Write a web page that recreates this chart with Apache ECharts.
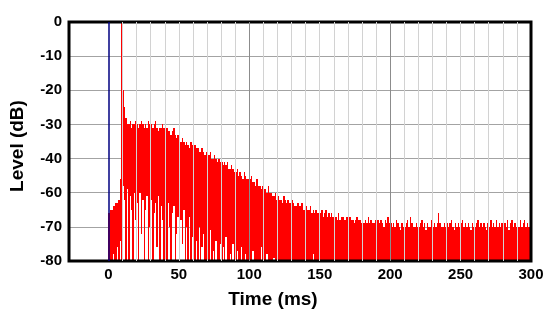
<!DOCTYPE html>
<html>
<head>
    <meta charset="utf-8">
    <title>Impulse response</title>
    <script src="https://cdn.jsdelivr.net/npm/echarts@6/dist/echarts.min.js"></script>
    <style>
        html, body { margin: 0; padding: 0; background: #ffffff; }
        #chart { width: 550px; height: 320px; }
    </style>
</head>
<body>
<div id="chart"></div>
<script>
    // x ticks (ms) and y tick labels as printed on the original (note: it skips -50)
    var xTicks = [0, 50, 100, 150, 200, 250, 300];
    var yTickLabels = ['0', '-10', '-20', '-30', '-40', '-60', '-70', '-80'];

    // time step of the trace, ms
    var step = 1;

    // upper edge of the trace, one value per ms from 0 to 300 (grid units, 0 = top line, -70 = bottom)
    var peakLevel = [
        -56, -55, -55, -54, -54, -53, -53, -52, -46, 0,
        -20, -25, -28, -30, -30, -29, -31, -30, -30, -29,
        -30, -31, -30, -29, -30, -31, -30, -31, -29, -30,
        -30, -31, -30, -29, -31, -32, -31, -31, -30, -31,
        -32, -31, -32, -32, -33, -32, -31, -33, -34, -33,
        -34, -35, -34, -35, -36, -35, -36, -37, -35, -36,
        -37, -36, -37, -37, -38, -38, -37, -38, -39, -38,
        -39, -39, -38, -40, -40, -39, -40, -41, -40, -41,
        -41, -42, -41, -42, -41, -43, -43, -42, -43, -44,
        -44, -43, -45, -44, -45, -46, -44, -45, -46, -46,
        -46, -45, -47, -47, -48, -46, -48, -48, -49, -48,
        -49, -49, -50, -48, -50, -50, -51, -51, -50, -52,
        -51, -52, -52, -53, -51, -52, -53, -52, -53, -53,
        -52, -53, -54, -54, -53, -54, -54, -53, -55, -55,
        -54, -55, -55, -54, -56, -55, -56, -55, -56, -56,
        -56, -55, -57, -56, -55, -57, -56, -57, -56, -57,
        -57, -57, -58, -56, -58, -57, -57, -58, -58, -57,
        -58, -57, -58, -58, -59, -58, -57, -58, -58, -59,
        -58, -59, -58, -59, -57, -59, -58, -59, -59, -58,
        -59, -58, -59, -58, -59, -60, -58, -59, -57, -59,
        -59, -60, -59, -60, -58, -59, -60, -61, -59, -60,
        -60, -59, -58, -60, -57, -59, -60, -60, -59, -60,
        -60, -59, -58, -60, -59, -61, -59, -60, -60, -58,
        -60, -59, -60, -59, -56, -59, -60, -60, -59, -60,
        -59, -60, -59, -58, -60, -61, -59, -60, -59, -60,
        -59, -58, -60, -59, -60, -59, -60, -61, -59, -60,
        -60, -59, -58, -60, -59, -60, -59, -60, -61, -59,
        -60, -58, -60, -59, -60, -58, -60, -59, -60, -59,
        -60, -59, -60, -58, -61, -59, -58, -60, -59, -60,
        -59, -60, -58, -60, -59, -58, -60, -59, -60, -59,
        -60
    ];

    // lower edge of the trace, one value per ms from 0 to 300
    var dipLevel = [
        -70, -70, -70, -68, -70, -70, -66, -70, -64, -70,
        -48, -52, -70, -49, -70, -51, -55, -70, -50, -58,
        -53, -70, -50, -62, -52, -70, -55, -51, -70, -60,
        -52, -70, -56, -53, -66, -51, -70, -54, -58, -70,
        -55, -70, -53, -60, -70, -56, -54, -70, -62, -57,
        -70, -58, -65, -55, -70, -60, -70, -57, -70, -63,
        -59, -70, -64, -70, -60, -70, -66, -62, -70, -70,
        -63, -70, -61, -70, -67, -70, -64, -70, -70, -65,
        -70, -66, -70, -63, -70, -70, -68, -70, -65, -70,
        -70, -67, -70, -70, -66, -70, -70, -68, -70, -70,
        -70, -70, -67, -70, -70, -70, -70, -70, -66, -70,
        -70, -70, -68, -70, -70, -70, -70, -69, -70, -70,
        -70, -70, -70, -70, -70, -70, -70, -70, -70, -70,
        -70, -70, -70, -70, -70, -70, -70, -70, -70, -70,
        -70, -70, -70, -70, -70, -68, -70, -70, -70, -70,
        -70, -70, -70, -70, -70, -70, -70, -70, -70, -70,
        -70, -70, -70, -70, -70, -70, -70, -70, -70, -70,
        -70, -70, -70, -70, -70, -70, -70, -70, -70, -70,
        -70, -70, -70, -70, -70, -70, -70, -70, -70, -70,
        -70, -70, -70, -70, -70, -70, -70, -70, -70, -70,
        -70, -70, -70, -70, -70, -70, -70, -70, -70, -70,
        -70, -70, -70, -70, -70, -70, -70, -70, -70, -70,
        -70, -70, -70, -70, -70, -70, -70, -70, -70, -70,
        -70, -70, -70, -70, -70, -70, -70, -70, -70, -70,
        -70, -70, -70, -70, -70, -70, -70, -70, -70, -70,
        -70, -70, -70, -70, -70, -70, -70, -70, -70, -70,
        -70, -70, -70, -70, -70, -70, -70, -70, -70, -70,
        -70, -70, -70, -70, -70, -70, -70, -70, -70, -70,
        -70, -70, -70, -70, -70, -70, -70, -70, -70, -70,
        -70, -70, -70, -70, -70, -70, -70, -70, -70, -70,
        -70
    ];

    // one row per ms: [time, peak, dip]
    var traceRows = peakLevel.map(function (p, i) {
        return [i * step, p, dipLevel[i]];
    });

    // vertical grid lines every 10 ms, darker at 100 and 200
    var gridLines = [];
    for (var t = 10; t < 300; t += 10) {
        var dark = (t % 100 === 0);
        gridLines.push({
            xAxis: t,
            lineStyle: {color: dark ? '#8c8c8c' : '#d2d2d2', width: 1, type: 'solid'}
        });
    }
    gridLines.push({xAxis: 0, lineStyle: {color: '#000080', width: 1.5, type: 'solid'}});

    var labelFont = {
        color: '#000000',
        fontFamily: 'Arial, "Liberation Sans", sans-serif',
        fontWeight: 'bold',
        fontSize: 15
    };

    // each ms is a red slice from dip to peak, snapped to whole pixels so no seams show
    function renderSlice(params, api) {
        var t0 = api.value(0);
        var top = api.coord([t0, api.value(1)]);
        var bottom = api.coord([t0, api.value(2)]);
        var right = api.coord([t0 + step, api.value(2)]);
        var x0 = Math.round(top[0]);
        var x1 = Math.max(x0 + 1, Math.round(right[0]));
        var y0 = Math.round(top[1]);
        var y1 = Math.round(bottom[1]);
        return {
            type: 'rect',
            shape: {x: x0, y: y0, width: x1 - x0, height: y1 - y0},
            style: {fill: '#ff0000'}
        };
    }

    var chart = echarts.init(document.getElementById('chart'), null, {renderer: 'canvas'});
    chart.setOption({
        animation: false,
        backgroundColor: '#ffffff',
        grid: {
            left: 69, right: 19, top: 22, bottom: 59,
            show: true,
            borderColor: '#000000',
            borderWidth: 3,
            backgroundColor: 'transparent',
            z: 5
        },
        xAxis: {
            type: 'value',
            min: -28,
            max: 300,
            axisLine: {show: false},
            axisTick: {show: false},
            splitLine: {show: false},
            axisLabel: Object.assign({
                customValues: xTicks,
                margin: 6
            }, labelFont)
        },
        yAxis: {
            type: 'value',
            min: -70,
            max: 0,
            interval: 10,
            axisLine: {show: false},
            axisTick: {show: false},
            splitLine: {lineStyle: {color: '#a3a3a3', width: 1}},
            axisLabel: Object.assign({
                margin: 7,
                formatter: function (v) {
                    return yTickLabels[Math.round(-v / 10)];
                }
            }, labelFont)
        },
        graphic: [
            {
                type: 'text',
                x: 18, y: 146,
                rotation: Math.PI / 2,
                style: {
                    text: 'Level (dB)',
                    fill: '#000000',
                    font: 'bold 19px Arial, "Liberation Sans", sans-serif',
                    align: 'center',
                    verticalAlign: 'middle'
                }
            },
            {
                type: 'text',
                x: 273, y: 300,
                style: {
                    text: 'Time (ms)',
                    fill: '#000000',
                    font: 'bold 19px Arial, "Liberation Sans", sans-serif',
                    align: 'center',
                    verticalAlign: 'middle'
                }
            }
        ],
        series: [
            {
                name: 'grid',
                type: 'line',
                z: 1,
                data: [],
                markLine: {
                    silent: true,
                    symbol: 'none',
                    label: {show: false},
                    data: gridLines
                }
            },
            {
                name: 'level',
                type: 'custom',
                z: 3,
                clip: true,
                renderItem: renderSlice,
                encode: {x: 0, y: [1, 2]},
                data: traceRows
            }
        ]
    });
</script>
</body>
</html>
